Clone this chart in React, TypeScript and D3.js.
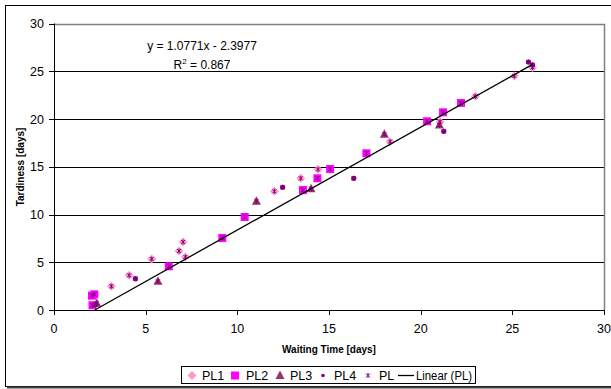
import React from 'react';
import * as d3 from 'd3';

// values
const pl1X = [3.13, 4.1, 5.33, 6.82, 7.04, 7.17, 12.02, 13.46, 14.4, 18.33, 21.06, 22.98, 25.11, 26.1];
const pl1Y = [2.48, 3.63, 5.34, 6.18, 7.12, 5.55, 12.43, 13.79, 14.73, 17.63, 19.72, 22.37, 24.5, 25.4];
const pl2X = [2.07, 2.2, 2.1, 6.26, 9.18, 10.4, 13.58, 14.37, 15.06, 17.04, 20.35, 21.22, 22.2];
const pl2Y = [1.5, 1.64, 0.5, 4.57, 7.54, 9.74, 12.56, 13.79, 14.76, 16.41, 19.76, 20.7, 21.68];
const pl3X = [2.33, 5.67, 11.04, 14.02, 18.02, 21.02];
const pl3Y = [0.7, 3.0, 11.38, 12.7, 18.4, 19.37];
const pl4X = [2.25, 4.44, 12.47, 16.35, 21.26, 25.88, 26.1];
const pl4Y = [0.55, 3.28, 12.85, 13.79, 18.71, 25.97, 25.66];
const plX = [...pl1X, ...pl2X, ...pl3X, ...pl4X];
const plY = [...pl1Y, ...pl2Y, ...pl3Y, ...pl4Y];

const slope = 1.0771;
const intercept = -2.3977;
const xTicks = [0, 5, 10, 15, 20, 25, 30];
const yTicks = [0, 5, 10, 15, 20, 25, 30];
const legendLabels = ['PL1', 'PL2', 'PL3', 'PL4', 'PL', 'Linear (PL)'];

const W = 611;
const H = 389;
const font = 'Liberation Sans, Arial, sans-serif';

const x = d3.scaleLinear().domain([0, 30]).range([54, 604]);
const y = d3.scaleLinear().domain([0, 30]).range([310, 23.5]);

const zip = (xs: number[], ys: number[]) => xs.map((v, i) => [v, ys[i]] as [number, number]);

const Diamond = ({ cx, cy }: { cx: number; cy: number }) => (
  <path d={`M${cx},${cy - 4.5}L${cx + 4.5},${cy}L${cx},${cy + 4.5}L${cx - 4.5},${cy}Z`} fill="#FF99CC" />
);
const Square = ({ cx, cy }: { cx: number; cy: number }) => (
  <rect x={cx - 4} y={cy - 4} width={8} height={8} fill="#FF00FF" />
);
const Triangle = ({ cx, cy }: { cx: number; cy: number }) => (
  <path d={`M${cx},${cy - 5}L${cx + 4.5},${cy + 3.5}L${cx - 4.5},${cy + 3.5}Z`} fill="#993366" />
);
const Dot = ({ cx, cy }: { cx: number; cy: number }) => (
  <circle cx={cx} cy={cy} r={2.6} fill="#800080" />
);
const Star = ({ cx, cy }: { cx: number; cy: number }) => (
  <path
    d={`M${cx - 2},${cy - 2}L${cx + 2},${cy + 2}M${cx + 2},${cy - 2}L${cx - 2},${cy + 2}M${cx},${cy - 2.5}L${cx},${cy + 2.5}`}
    stroke="#800080"
    strokeWidth={1}
    fill="none"
  />
);

export default function App() {
  const x0 = -intercept / slope;
  const x1 = d3.max(plX) as number;
  const line = d3.line<[number, number]>().x(d => x(d[0])).y(d => y(d[1]));

  const legendItems = [
    { label: legendLabels[0], sx: 192, tx: 202, m: (cx: number, cy: number) => <Diamond cx={cx} cy={cy} /> },
    { label: legendLabels[1], sx: 235, tx: 246, m: (cx: number, cy: number) => <Square cx={cx} cy={cy} /> },
    { label: legendLabels[2], sx: 280, tx: 290, m: (cx: number, cy: number) => <Triangle cx={cx} cy={cy} /> },
    { label: legendLabels[3], sx: 323, tx: 334, m: (cx: number, cy: number) => <circle cx={cx} cy={cy} r={1.8} fill="#800080" /> },
    { label: legendLabels[4], sx: 368, tx: 379, m: (cx: number, cy: number) => <Star cx={cx} cy={cy} /> },
  ];

  return (
    <svg width={W} height={H} style={{ position: 'absolute', left: 0, top: 0, background: '#fff' }}>
      {/* chart frame, runs past the right edge; shadow at the bottom */}
      <rect x={5.5} y={5.5} width={612} height={381} fill="#fff" stroke="#000" strokeWidth={1} />
      <line x1={7} x2={611} y1={387.5} y2={387.5} stroke="#444" strokeWidth={2} />

      {/* grid */}
      {yTicks.slice(1, -1).map(t => (
        <line key={t} x1={x(0)} x2={x(30)} y1={Math.round(y(t)) + 0.5} y2={Math.round(y(t)) + 0.5} stroke="#000" />
      ))}
      {/* plot area border */}
      <path d={`M${x(0)},${Math.round(y(30)) + 0.5}H${x(30) + 0.5}V${y(0)}`} stroke="#808080" fill="none" strokeWidth={1.5} />

      {/* axes */}
      <line x1={x(0)} x2={x(30)} y1={y(0) + 0.5} y2={y(0) + 0.5} stroke="#000" />
      <line x1={x(0) + 0.5} x2={x(0) + 0.5} y1={y(0)} y2={y(30)} stroke="#000" />
      {xTicks.map(t => (
        <g key={t}>
          <line x1={Math.round(x(t)) + 0.5} x2={Math.round(x(t)) + 0.5} y1={y(0)} y2={y(0) + 5} stroke="#000" />
          <text x={x(t)} y={y(0) + 23} textAnchor="middle" fontSize={12.5} fontFamily={font}>{t}</text>
        </g>
      ))}
      {yTicks.map(t => (
        <g key={t}>
          <line x1={x(0) - 5} x2={x(0)} y1={Math.round(y(t)) + 0.5} y2={Math.round(y(t)) + 0.5} stroke="#000" />
          <text x={44} y={y(t) + 4.5} textAnchor="end" fontSize={12.5} fontFamily={font}>{t}</text>
        </g>
      ))}

      <text x={329} y={353} textAnchor="middle" fontSize={10} fontWeight="bold" fontFamily={font}>Waiting Time [days]</text>
      <text transform="translate(24,167) rotate(-90)" textAnchor="middle" fontSize={10} fontWeight="bold" fontFamily={font}>Tardiness [days]</text>

      {/* series */}
      {zip(pl1X, pl1Y).map((d, i) => <Diamond key={'a' + i} cx={x(d[0])} cy={y(d[1])} />)}
      {zip(pl2X, pl2Y).map((d, i) => <Square key={'b' + i} cx={x(d[0])} cy={y(d[1])} />)}
      {zip(pl3X, pl3Y).map((d, i) => <Triangle key={'c' + i} cx={x(d[0])} cy={y(d[1])} />)}
      {zip(pl4X, pl4Y).map((d, i) => <Dot key={'d' + i} cx={x(d[0])} cy={y(d[1])} />)}
      {zip(plX, plY).map((d, i) => <Star key={'e' + i} cx={x(d[0])} cy={y(d[1])} />)}

      {/* trend line */}
      <path d={line([[x0, 0], [x1, slope * x1 + intercept]]) || ''} stroke="#000" strokeWidth={1.3} fill="none" />
      <text x={202} y={50} textAnchor="middle" fontSize={12} fontFamily={font}>y = 1.0771x - 2.3977</text>
      <text x={202} y={69} textAnchor="middle" fontSize={12} fontFamily={font}>
        R<tspan dy={-5} fontSize={8}>2</tspan><tspan dy={5}> = 0.867</tspan>
      </text>

      {/* legend */}
      <rect x={181.5} y={366.5} width={294} height={17} fill="#fff" stroke="#000" />
      {legendItems.map(it => (
        <g key={it.label}>
          {it.m(it.sx, 375.5)}
          <text x={it.tx} y={380} fontSize={12.5} fontFamily={font}>{it.label}</text>
        </g>
      ))}
      <line x1={398} x2={414} y1={375.5} y2={375.5} stroke="#000" strokeWidth={1.3} />
      <text x={416} y={380} fontSize={12.5} fontFamily={font} textLength={56} lengthAdjust="spacingAndGlyphs">{legendLabels[5]}</text>
    </svg>
  );
}
